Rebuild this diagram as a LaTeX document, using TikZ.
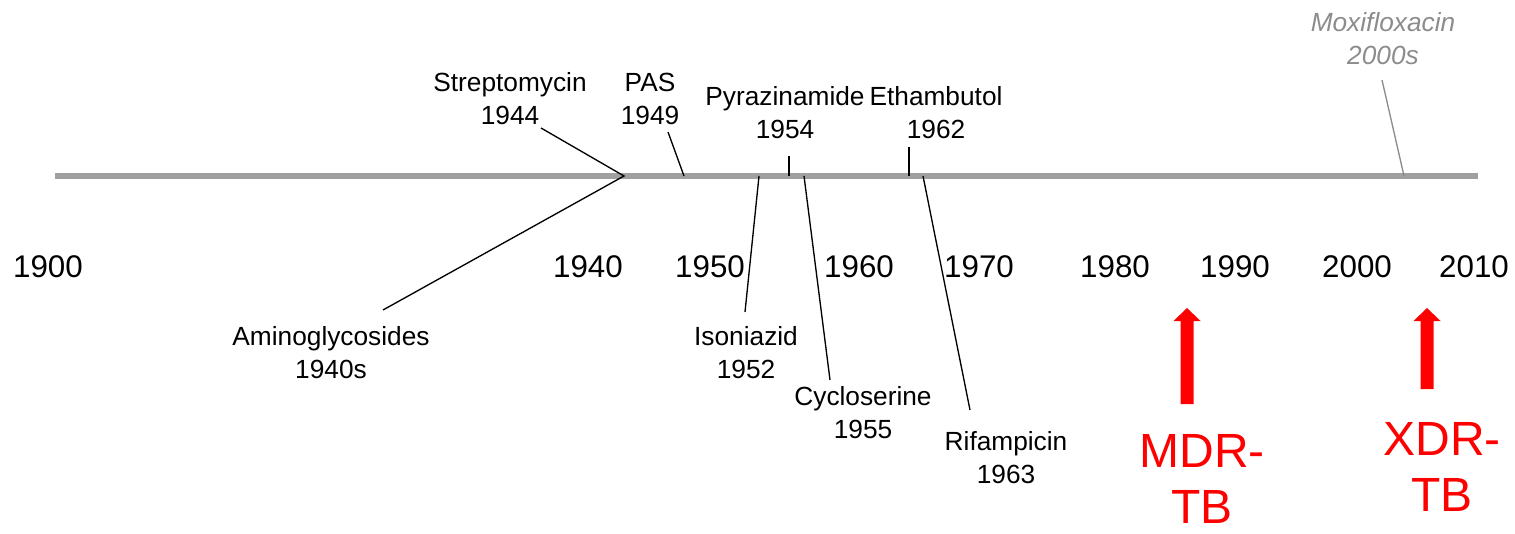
\documentclass[tikz,border=0pt]{standalone}
\usepackage{fontspec}
\setmainfont{Liberation Sans}
\definecolor{bargray}{RGB}{160,160,160}
\definecolor{moxigray}{RGB}{140,140,140}
\definecolor{tbred}{RGB}{255,0,0}
\begin{document}
\begin{tikzpicture}[x=0.75pt,y=-0.75pt,
  lbl/.style={align=center,inner sep=0pt,font=\fontsize{19.7}{24.6}\selectfont},
  yr/.style={inner sep=0pt,font=\fontsize{23.5}{28}\selectfont},
  big/.style={align=center,inner sep=0pt,text=tbred,font=\fontsize{36}{42}\selectfont},
  conn/.style={draw=black,line width=1pt},
  bar/.style={draw=bargray,line width=4.2pt}]
\useasboundingbox (0,0) rectangle (1515,534);
% timeline bar
\coordinate (barL) at (55,176);
\coordinate (barR) at (1478,176);
\draw[bar] (barL) -- (barR);
% year labels
\node[yr] (y1900) at (48,267) {1900};
\node[yr] (y1940) at (588,267) {1940};
\node[yr] (y1950) at (710,267) {1950};
\node[yr] (y1960) at (859,267) {1960};
\node[yr] (y1970) at (979,267) {1970};
\node[yr] (y1980) at (1115,267) {1980};
\node[yr] (y1990) at (1235,267) {1990};
\node[yr] (y2000) at (1357,267) {2000};
\node[yr] (y2010) at (1474,267) {2010};
% drug labels above
\node[lbl] (strep) at (510,99) {Streptomycin\\1944};
\node[lbl] (pas) at (650,99) {PAS\\1949};
\node[lbl] (pyr) at (785,113) {Pyrazinamide\\1954};
\node[lbl] (eth) at (936,113) {Ethambutol\\1962};
\node[lbl,text=moxigray,font=\fontsize{19.7}{24.6}\selectfont\itshape] (moxi) at (1383,39) {Moxifloxacin\\2000s};
% drug labels below
\node[lbl] (amino) at (331,353) {Aminoglycosides\\1940s};
\node[lbl] (inh) at (746,353) {Isoniazid\\1952};
\node[lbl] (cyc) at (863,413) {Cycloserine\\1955};
\node[lbl] (rif) at (1006,458) {Rifampicin\\1963};
% connector points
\coordinate (pStrep) at (624,176);
\coordinate (eStrep) at (541,128);
\coordinate (eAmino) at (383,310);
\coordinate (pPas) at (684,176);
\coordinate (ePas) at (668,132);
\coordinate (pPyr) at (789,176);
\coordinate (ePyr) at (789,156);
\coordinate (pEth) at (909,176);
\coordinate (eEth) at (909,147);
\coordinate (pInh) at (759,176);
\coordinate (eInh) at (745,312);
\coordinate (pCyc) at (804,176);
\coordinate (eCyc) at (830,380);
\coordinate (pRif) at (923,176);
\coordinate (eRif) at (970,410);
\coordinate (pMoxi) at (1404,176);
\coordinate (eMoxi) at (1382,80);
\draw[conn] (eStrep) -- (pStrep) -- (eAmino);
\draw[conn] (ePas) -- (pPas);
\draw[conn] (ePyr) -- (pPyr);
\draw[conn] (eEth) -- (pEth);
\draw[conn] (pInh) -- (eInh);
\draw[conn] (pCyc) -- (eCyc);
\draw[conn] (pRif) -- (eRif);
\draw[draw=moxigray,line width=1pt] (eMoxi) -- (pMoxi);
% red arrows
\fill[tbred] (1180.5,404) -- (1193.5,404) -- (1193.5,321) -- (1200.5,321) -- (1187,308) -- (1173.5,321) -- (1180.5,321) -- cycle;
\fill[tbred] (1420.5,389) -- (1433.5,389) -- (1433.5,321) -- (1440.5,321) -- (1427,308) -- (1413.5,321) -- (1420.5,321) -- cycle;
\node[big] (mdr) at (1202,479) {MDR-\\TB};
\node[big] (xdr) at (1442,467) {XDR-\\TB};
\end{tikzpicture}
\end{document}
